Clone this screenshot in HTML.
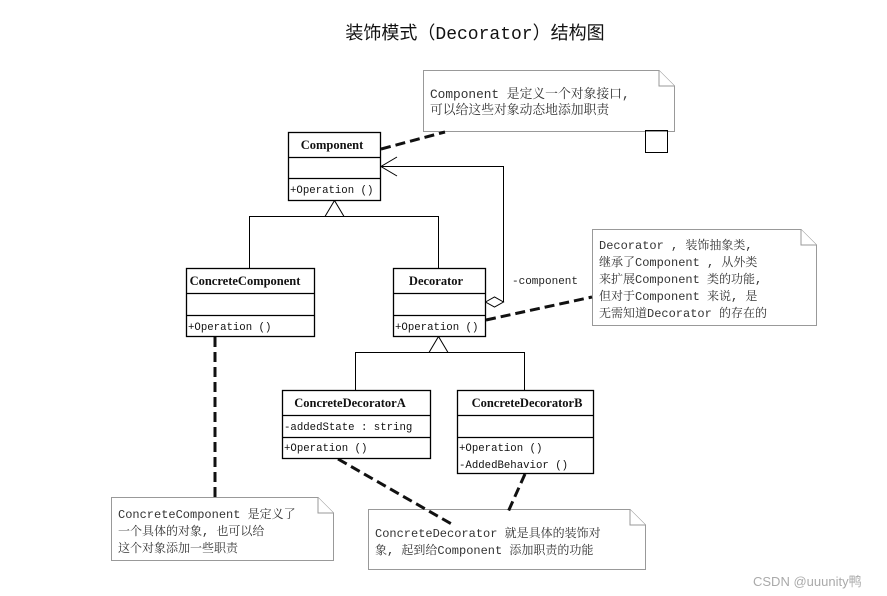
<!DOCTYPE html>
<html><head><meta charset="utf-8"><style>
html,body{margin:0;padding:0;background:#fff;}
svg{display:block;}
text{font-family:"Liberation Mono","Noto Serif CJK SC","Noto Sans CJK SC",monospace;font-size:10.7px;fill:#111;}
.b{font-family:"Liberation Serif",serif;font-weight:bold;font-size:12.5px;}
.n{fill:#333;font-size:12px;}
</style></head><body>
<svg width="887" height="596" viewBox="0 0 887 596" xmlns="http://www.w3.org/2000/svg">
<rect width="887" height="596" fill="#fff"/>
<text x="475" y="39" text-anchor="middle" style="font-family:'Liberation Mono','Noto Sans CJK SC',monospace;font-size:18px;">装饰模式（Decorator）结构图</text>

<g fill="#fff" stroke="#999" stroke-width="1">
<path d="M423.5 70.5 H659 L674.5 86 V131.5 H423.5 Z"/>
<path d="M659 70.5 V86 H674.5"/>
<path d="M592.5 229.5 H801 L816.5 245 V325.5 H592.5 Z"/>
<path d="M801 229.5 V245 H816.5"/>
<path d="M111.5 497.5 H318 L333.5 513 V560.5 H111.5 Z"/>
<path d="M318 497.5 V513 H333.5"/>
<path d="M368.5 509.5 H630 L645.5 525 V569.5 H368.5 Z"/>
<path d="M630 509.5 V525 H645.5"/>
</g>
<rect x="645.5" y="130.5" width="22" height="22" fill="none" stroke="#000"/>
<text class="n" x="430" y="98" style="font-size:12.8px">Component 是定义一个对象接口,</text>
<text class="n" x="430" y="114" style="font-size:12.8px">可以给这些对象动态地添加职责</text>
<text class="n" x="599" y="249">Decorator , 装饰抽象类,</text>
<text class="n" x="599" y="266">继承了Component , 从外类</text>
<text class="n" x="599" y="283">来扩展Component 类的功能,</text>
<text class="n" x="599" y="300">但对于Component 来说, 是</text>
<text class="n" x="599" y="317">无需知道Decorator 的存在的</text>
<text class="n" x="118" y="518">ConcreteComponent 是定义了</text>
<text class="n" x="118" y="535">一个具体的对象, 也可以给</text>
<text class="n" x="118" y="552">这个对象添加一些职责</text>
<text class="n" x="375" y="537">ConcreteDecorator 就是具体的装饰对</text>
<text class="n" x="375" y="554">象, 起到给Component 添加职责的功能</text>

<g stroke="#111" stroke-width="3" stroke-dasharray="10,5" fill="none">
<line x1="381" y1="149" x2="445" y2="132"/>
<line x1="486" y1="320" x2="592" y2="297"/>
<line x1="215" y1="337" x2="215" y2="497"/>
<line x1="338" y1="459" x2="455" y2="526"/>
<line x1="525" y1="474" x2="508" y2="512"/>
</g>

<g stroke="#000" stroke-width="1" fill="none">
<path d="M249.5 268 V216.5 H438.5 V268"/>
<path d="M355.5 390 V352.5 H524.5 V390"/>
<polygon points="334.5,200.5 325,216.5 344,216.5" fill="#fff"/>
<polygon points="438.5,336.5 429,352.5 448,352.5" fill="#fff"/>
<path d="M503.5 302 V166.5 H381"/>
<path d="M397 157 L381 166.5 L397 176"/>
<polygon points="485.5,302 494.5,297 503.5,302 494.5,307" fill="#fff"/>
</g>
<text x="512" y="284" style="font-size:11px;fill:#222;">-component</text>

<g fill="#fff" stroke="#000" stroke-width="1.3">
<rect x="288.5" y="132.5" width="92" height="68"/>
<line x1="288.5" y1="157.5" x2="380.5" y2="157.5"/>
<line x1="288.5" y1="178.5" x2="380.5" y2="178.5"/>
<rect x="186.5" y="268.5" width="128" height="68"/>
<line x1="186.5" y1="293.5" x2="314.5" y2="293.5"/>
<line x1="186.5" y1="315.5" x2="314.5" y2="315.5"/>
<rect x="393.5" y="268.5" width="92" height="68"/>
<line x1="393.5" y1="293.5" x2="485.5" y2="293.5"/>
<line x1="393.5" y1="315.5" x2="485.5" y2="315.5"/>
<rect x="282.5" y="390.5" width="148" height="68"/>
<line x1="282.5" y1="415.5" x2="430.5" y2="415.5"/>
<line x1="282.5" y1="437.5" x2="430.5" y2="437.5"/>
<rect x="457.5" y="390.5" width="136" height="83"/>
<line x1="457.5" y1="415.5" x2="593.5" y2="415.5"/>
<line x1="457.5" y1="437.5" x2="593.5" y2="437.5"/>
</g>
<text class="b" x="332" y="149" text-anchor="middle">Component</text>
<text x="290" y="193">+Operation ()</text>
<text class="b" x="245" y="285" text-anchor="middle">ConcreteComponent</text>
<text x="188" y="330">+Operation ()</text>
<text class="b" x="436" y="285" text-anchor="middle">Decorator</text>
<text x="395" y="330">+Operation ()</text>
<text class="b" x="350" y="407" text-anchor="middle">ConcreteDecoratorA</text>
<text x="284" y="430">-addedState  : string</text>
<text x="284" y="451">+Operation ()</text>
<text class="b" x="527" y="407" text-anchor="middle">ConcreteDecoratorB</text>
<text x="459" y="451">+Operation ()</text>
<text x="459" y="468">-AddedBehavior ()</text>

<text x="753" y="586" style="font-family:'Liberation Sans','Noto Sans CJK SC',sans-serif;font-size:13px;fill:#aaa;">CSDN @uuunity鸭</text>
</svg>
</body></html>
